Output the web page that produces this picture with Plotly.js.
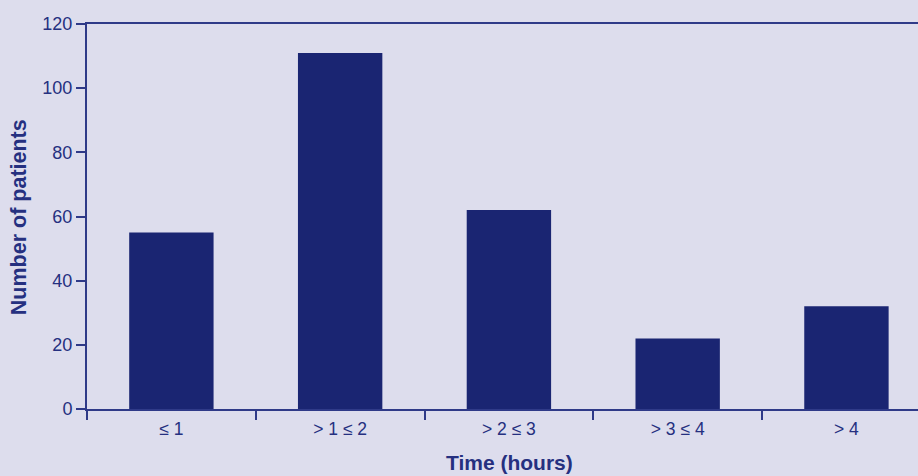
<!DOCTYPE html>
<html>
<head>
<meta charset="utf-8">
<script src="https://cdn.plot.ly/plotly-3.0.1.min.js"></script>
<style>html,body{margin:0;padding:0;background:#dddded;}#chart{width:918px;height:476px;}</style>
</head>
<body>
<div id="chart"></div>
<script>
const categories = ["≤ 1", "> 1 ≤ 2", "> 2 ≤ 3", "> 3 ≤ 4", "> 4"];
const patients = [55, 111, 62, 22, 32];
const yTicks = [0, 20, 40, 60, 80, 100, 120];
const xTitle = "Time (hours)";
const yTitle = "Number of patients";

const navy = "#1a2572";
const lineCol = "#2f3a88";
const textCol = "#253080";

Plotly.newPlot("chart", [{
  type: "bar",
  x: categories,
  y: patients,
  marker: {color: navy},
  hoverinfo: "x+y"
}], {
  width: 918, height: 476,
  paper_bgcolor: "#dddded",
  plot_bgcolor: "#dddded",
  margin: {l: 87, r: 0, t: 24, b: 67},
  bargap: 0.5,
  showlegend: false,
  font: {family: "Liberation Sans, Arial, sans-serif", color: textCol, size: 18},
  xaxis: {
    type: "category",
    range: [-0.5, 4.424],
    tickson: "boundaries",
    ticks: "outside", ticklen: 9, tickwidth: 2, tickcolor: lineCol,
    showline: true, linecolor: lineCol, linewidth: 2, mirror: true,
    showgrid: false, zeroline: false,
    ticklabelstandoff: 3,
    tickfont: {size: 17.5, color: textCol}
  },
  yaxis: {
    range: [0, 120],
    tickvals: yTicks,
    ticks: "outside", ticklen: 9, tickwidth: 2, tickcolor: lineCol,
    showline: true, linecolor: lineCol, linewidth: 2,
    showgrid: false, zeroline: false,
    tickfont: {size: 18, color: textCol}
  },
  annotations: [
    {text: "<b>" + xTitle + "</b>", xref: "paper", yref: "paper", x: 0.509, y: -0.14,
     xanchor: "center", yanchor: "middle", showarrow: false, font: {size: 21, color: textCol}},
    {text: "<b>" + yTitle + "</b>", xref: "paper", yref: "paper", x: -0.0824, y: 0.497,
     xanchor: "center", yanchor: "middle", textangle: -90, showarrow: false, font: {size: 21.5, color: textCol}}
  ]
}, {displayModeBar: false, staticPlot: true});
</script>
</body>
</html>
